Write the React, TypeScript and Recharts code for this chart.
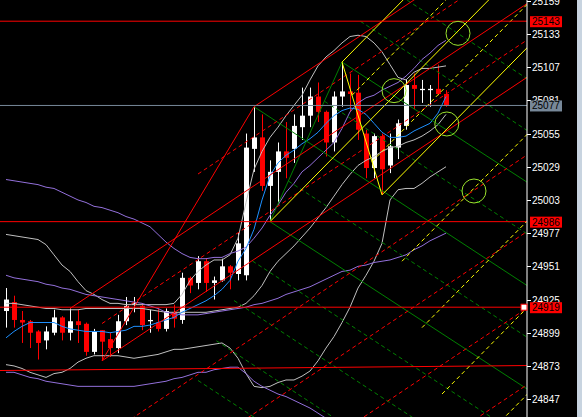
import { ComposedChart, Bar, Line, XAxis, YAxis, ReferenceLine, ReferenceDot } from 'recharts'

// bars, oldest first
const opens = [
  24916, 24923, 24909, 24908, 24900, 24893, 24899, 24911, 24899, 24908,
  24906, 24884, 24901, 24894, 24887, 24908, 24921, 24920, 24908, 24907,
  24902, 24915, 24909, 24942, 24938, 24955, 24938, 24940, 24951, 24945,
  24944, 25043, 25052, 25014, 25025, 25041, 25043, 25060, 25069, 25084,
  25072, 25048, 25084, 25088, 25087, 25055, 25028, 25053, 25030, 25044,
  25061, 25093, 25089, 25089, 25090, 25086,
]
const highs = [
  24934, 24928, 24916, 24909, 24901, 24904, 24917, 24912, 24918, 24917,
  24907, 24902, 24901, 24899, 24913, 24927, 24927, 24921, 24917, 24918,
  24918, 24921, 24946, 24943, 24959, 24957, 24943, 24957, 24952, 24977,
  25055, 25076, 25070, 25034, 25048, 25064, 25070, 25091, 25091, 25095,
  25073, 25088, 25111, 25102, 25101, 25058, 25055, 25055, 25055, 25066,
  25097, 25102, 25097, 25093, 25109, 25089,
]
const lows = [
  24903, 24903, 24891, 24887, 24878, 24886, 24897, 24893, 24893, 24891,
  24881, 24882, 24877, 24880, 24883, 24905, 24915, 24901, 24899, 24900,
  24900, 24903, 24906, 24930, 24933, 24931, 24925, 24939, 24933, 24940,
  24940, 25025, 25010, 24986, 25000, 25020, 25032, 25050, 25060, 25064,
  25037, 25041, 25076, 25072, 25050, 25020, 25020, 25007, 25024, 25035,
  25058, 25074, 25079, 25076, 25085, 25076,
]
const closes = [
  24925, 24909, 24907, 24899, 24891, 24900, 24911, 24899, 24908, 24905,
  24884, 24900, 24892, 24887, 24908, 24920, 24922, 24905, 24909, 24902,
  24916, 24910, 24942, 24936, 24955, 24938, 24940, 24951, 24946, 24969,
  25044, 25052, 25014, 25025, 25041, 25036, 25061, 25069, 25084, 25072,
  25048, 25084, 25088, 25086, 25058, 25028, 25053, 25027, 25045, 25063,
  25093, 25090, 25090, 25090, 25086, 25077,
]

// indicator lines, one value per bar
const blueMa = [
  24895, 24900, 24904, 24907, 24907, 24907, 24907, 24904, 24902, 24901,
  24900, 24900, 24900, 24899, 24900, 24901, 24904, 24904, 24905, 24907,
  24909, 24911, 24915, 24918, 24921, 24924, 24928, 24933, 24940, 24955,
  24965, 24980, 25003, 25022, 25032, 25038, 25042, 25047, 25051, 25056,
  25063, 25069, 25073, 25075, 25074, 25070, 25063, 25056, 25052, 25052,
  25053, 25057, 25060, 25063, 25071, 25084,
]
const purpleUp = [
  25019, 25018, 25017, 25016, 25015, 25013, 25012, 25009, 25006, 25003,
  25001, 24998, 24997, 24995, 24993, 24990, 24988, 24985, 24982, 24976,
  24970, 24965, 24961, 24958, 24957, 24957, 24958, 24958, 24961, 24963,
  24966, 24973, 24981, 24991, 24999, 25009, 25016, 25025, 25030, 25036,
  25042, 25048, 25059, 25072, 25079, 25083, 25085, 25089, 25092, 25095,
  25100, 25106, 25113, 25118, 25124, 25128,
]
const purpleMid = [
  24944, 24942, 24941, 24940, 24939, 24937, 24936, 24934, 24933, 24931,
  24929, 24928, 24927, 24926, 24925, 24924, 24923, 24922, 24920, 24918,
  24915, 24914, 24913, 24913, 24913, 24914, 24915, 24916, 24917, 24918,
  24919, 24921, 24922, 24924, 24926, 24929, 24931, 24933, 24935, 24938,
  24941, 24944, 24947, 24948, 24951, 24952, 24954, 24955, 24956, 24958,
  24960, 24964, 24967, 24971, 24974, 24977,
]
const purpleLow = [
  24868, 24868, 24866, 24864, 24863, 24861, 24860, 24859, 24858, 24857,
  24857, 24857, 24857, 24857, 24857, 24857, 24857, 24858, 24859, 24860,
  24861, 24863, 24864, 24866, 24868, 24868, 24870, 24871, 24872, 24872,
  24867, 24861, 24857, 24854, 24851, 24849, 24846, 24843, 24840, 24836,
  24832, 24828, null, null, null, null, null, null, null, null,
  null, null, null, null, null, null,
]
const grayUp = [
  24976, 24975, 24974, 24973, 24972, 24968, 24960, 24952, 24947, 24939,
  24932, 24929, 24925, 24922, 24922, 24921, 24921, 24921, 24921, 24921,
  24921, 24922, 24929, 24940, 24947, 24952, 24956, 24956, 24960, 24973,
  25001, 25027, 25041, 25052, 25060, 25069, 25077, 25085, 25097, 25108,
  25115, 25120, 25126, 25131, 25132, 25131, 25126, 25119, 25109, 25099,
  25097, 25103, 25106, 25106, 25107, 25108,
]
const grayMid = [
  24922, 24922, 24921, 24920, 24919, 24918, 24918, 24917, 24917, 24917,
  24918, 24918, 24918, 24918, 24918, 24918, 24918, 24918, 24917, 24916,
  24915, 24915, 24915, 24915, 24915, 24915, 24916, 24917, 24918, 24919,
  24922, 24928, 24936, 24947, 24955, 24961, 24967, 24974, 24981, 24989,
  24997, 25006, 25015, 25023, 25030, 25034, 25037, 25041, 25044, 25045,
  25048, 25050, 25053, 25057, 25062, 25070,
]
const grayLow = [
  24874, 24873, 24871, 24868, 24866, 24864, 24867, 24868, 24871, 24876,
  24879, 24881, 24881, 24881, 24881, 24880, 24879, 24880, 24881, 24882,
  24884, 24886, 24886, 24887, 24888, 24889, 24890, 24891, 24887, 24879,
  24867, 24857, 24856, 24857, 24860, 24862, 24862, 24865, 24869, 24877,
  24887, 24896, 24907, 24919, 24934, 24944, 24955, 24969, 25003, 25011,
  25012, 25012, 25016, 25021, 25025, 25029,
]

const yTicks = [25159, 25133, 25107, 25081, 25055, 25029, 25003, 24977, 24951, 24925, 24899, 24873, 24847]

// drawn objects: [bar1, price1, bar2, price2]
type Seg = [number, number, number, number]
const redSolid: Seg[] = [
  [12, 24877, 31, 25076],
  [8, 24918, 66, 25160.4],
  [31, 25076, 52, 25163.8],
  [12, 24877, 66, 25102.7],
  [-0.75, 24869.4, 65.125, 24873.3],
]
const redDashed: Seg[] = [
  [24, 25023.3, 57, 25161.3],
  [12, 24906.2, 66, 25131.9],
  [12, 24816.2, 66, 25041.9],
  [12, 24756.2, 66, 24981.9],
  [12, 24696.2, 66, 24921.9],
  [12, 24636.2, 66, 24861.9],
]
const yellowSolid: Seg[] = [
  [33, 24986, 66, 25195.6],
  [42, 25111, 50, 25161.9],
  [47, 25007, 66, 25127.7],
  [42, 25111, 47, 25007],
]
const yellowDashed: Seg[] = [
  [43.25, 25085, 56, 25166],
  [45.75, 25033, 66, 25161.6],
  [49.5, 24955, 66, 25059.8],
  [52, 24903, 66, 24991.9],
  [54.5, 24851, 66, 24924],
  [57, 24799, 66, 24856.1],
]
const greenSolid: Seg[] = [
  [31, 25076, 66, 24932.4],
  [33, 24986, 66, 24851.4],
  [42, 25111, 66, 25013.4],
  [33, 24986, 42, 25111],
]
const greenDashed: Seg[] = [
  [46.5, 25174.4, 66, 25094.4],
  [44.3, 25142.9, 66, 25053.9],
  [39.8, 25080.3, 66, 24972.9],
  [35.3, 25017.8, 66, 24891.9],
  [30.8, 24955.2, 66, 24810.9],
  [28.5, 24924.2, 66, 24770.4],
  [26.3, 24892.7, 66, 24729.9],
  [24, 24861.6, 66, 24689.4],
]
const circles: [number, number][] = [
  [56.5, 25133.5],
  [48.5, 25088.6],
  [55.1, 25062.5],
  [58.5, 25010],
]

const redLevels = [25143, 24986, 24919]
const lastPrice = 25077

const rows = opens.map((o, i) => ({
  idx: i,
  open: o,
  high: highs[i],
  low: lows[i],
  close: closes[i],
  blue: blueMa[i],
  pUp: purpleUp[i],
  pMid: purpleMid[i],
  pLow: purpleLow[i],
  gUp: grayUp[i],
  gMid: grayMid[i],
  gLow: grayLow[i],
}))

const FONT = '"Liberation Sans", Arial, sans-serif'

function Candle(props: any) {
  const { x, y, width, height, payload } = props
  const top = Math.min(y, y + height)
  const h = Math.abs(height)
  const { open, close, high, low } = payload
  const span = high - low || 1
  const py = (v: number) => top + ((high - v) / span) * h
  const color = close >= open ? '#ffffff' : '#ff0000'
  const cx = Math.round(x + width / 2)
  const bTop = py(Math.max(open, close))
  const bBot = py(Math.min(open, close))
  return (
    <g>
      <line x1={cx + 0.5} x2={cx + 0.5} y1={top} y2={top + h} stroke={color} strokeWidth={1} />
      <rect x={cx - 2} y={bTop} width={5} height={Math.max(1, bBot - bTop)} fill={color} />
    </g>
  )
}

// axis tick drawn as a reference-line label so the price tags can sit on top of it
function TickText({ viewBox, text }: any) {
  if (!viewBox) return null
  const x0 = viewBox.x + viewBox.width
  const y = Math.round(viewBox.y)
  return (
    <g>
      <line x1={x0} x2={x0 + 4} y1={y + 0.5} y2={y + 0.5} stroke="#ffffff" />
      <text x={x0 + 5} y={y + 4} fontSize={10} fill="#ffffff" fontFamily={FONT}>
        {text}
      </text>
    </g>
  )
}

function PriceTag({ viewBox, text, bg }: any) {
  if (!viewBox) return null
  const left = viewBox.x + viewBox.width + 3
  const y = viewBox.y
  return (
    <g>
      <rect x={left} y={y - 5} width={32} height={11} fill={bg} />
      <text x={left + 2} y={y + 4} fontSize={10} fill="#000" fontFamily={FONT}>
        {text}
      </text>
    </g>
  )
}

function seg(s: Seg) {
  return [
    { x: s[0], y: s[1] },
    { x: s[2], y: s[3] },
  ] as any
}

const lineProps = { type: 'linear' as const, strokeWidth: 1, dot: false, activeDot: false, isAnimationActive: false }

export default function App() {
  return (
    <div style={{ position: 'absolute', left: 0, top: 0, width: 582, height: 417, background: '#000' }}>
      <ComposedChart width={577} height={417} data={rows} margin={{ top: 0, right: 0, bottom: 0, left: 0 }}>
        <XAxis dataKey="idx" type="number" domain={[-0.75, 65.125]} allowDataOverflow hide />
        <YAxis
          orientation="right"
          domain={[24833, 25159.6]}
          allowDataOverflow
          ticks={yTicks}
          width={50}
          axisLine={{ stroke: '#ffffff' }}
          tickLine={false}
          tick={false}
        />

        <Bar dataKey={(d: any) => [d.low, d.high]} barSize={5} shape={<Candle />} isAnimationActive={false} />

        <Line {...lineProps} dataKey="gUp" stroke="#c0c0c0" />
        <Line {...lineProps} dataKey="gMid" stroke="#c0c0c0" />
        <Line {...lineProps} dataKey="gLow" stroke="#c0c0c0" />
        <Line {...lineProps} dataKey="pUp" stroke="#9370db" />
        <Line {...lineProps} dataKey="pMid" stroke="#9370db" />
        <Line {...lineProps} dataKey="pLow" stroke="#9370db" connectNulls={false} />
        <Line {...lineProps} dataKey="blue" stroke="#1e90ff" />

        {greenDashed.map((s, i) => (
          <ReferenceLine key={'gd' + i} segment={seg(s)} stroke="#008000" strokeDasharray="4 3" ifOverflow="hidden" />
        ))}
        {greenSolid.map((s, i) => (
          <ReferenceLine key={'gs' + i} segment={seg(s)} stroke="#008000" ifOverflow="hidden" />
        ))}
        {redDashed.map((s, i) => (
          <ReferenceLine key={'rd' + i} segment={seg(s)} stroke="#ff0000" strokeDasharray="4 3" ifOverflow="hidden" />
        ))}
        {redSolid.map((s, i) => (
          <ReferenceLine key={'rs' + i} segment={seg(s)} stroke="#ff0000" ifOverflow="hidden" />
        ))}
        {yellowDashed.map((s, i) => (
          <ReferenceLine key={'yd' + i} segment={seg(s)} stroke="#ffff00" strokeDasharray="4 3" ifOverflow="hidden" />
        ))}
        {yellowSolid.map((s, i) => (
          <ReferenceLine key={'ys' + i} segment={seg(s)} stroke="#ffff00" ifOverflow="hidden" />
        ))}

        {yTicks.map((v) => (
          <ReferenceLine key={'t' + v} y={v} stroke="none" label={<TickText text={String(v)} />} />
        ))}

        <ReferenceLine y={lastPrice} stroke="#778899" label={<PriceTag text={String(lastPrice)} bg="#778899" />} />
        {redLevels.map((v) => (
          <ReferenceLine key={'lv' + v} y={v} stroke="#ff0000" label={<PriceTag text={String(v)} bg="#ff0000" />} />
        ))}
        <ReferenceDot
          x={64.75}
          y={24919}
          r={3}
          shape={(p: any) => <rect x={p.cx - 3} y={p.cy - 3} width={6} height={6} fill="#fff" stroke="#f00" />}
        />

        {circles.map((c, i) => (
          <ReferenceDot
            key={'c' + i}
            x={c[0]}
            y={c[1]}
            r={12}
            fill="none"
            stroke="#9be22d"
            strokeWidth={1}
            ifOverflow="hidden"
          />
        ))}
      </ComposedChart>
      <div style={{ position: 'absolute', left: 577, top: 0, width: 5, height: 417, background: '#c8d4e0' }} />
    </div>
  )
}
